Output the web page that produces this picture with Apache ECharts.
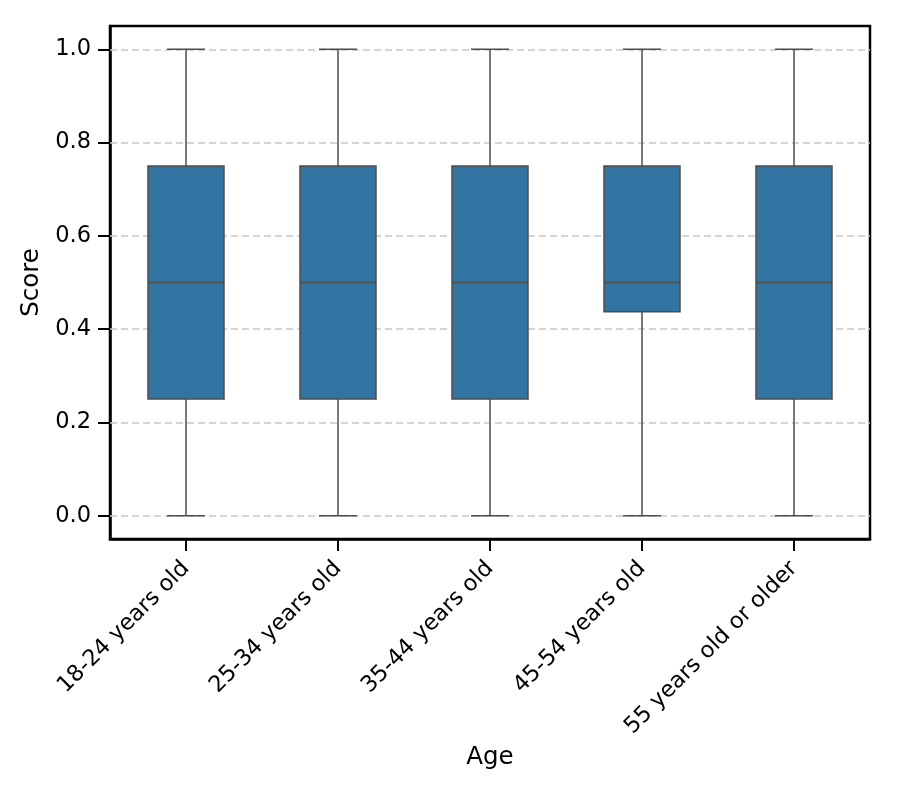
<!DOCTYPE html>
<html>
<head>
<meta charset="utf-8">
<script src="https://cdn.jsdelivr.net/npm/echarts@6/dist/echarts.min.js"></script>
<style>html,body{margin:0;padding:0;background:#fff;}#c{width:897px;height:797px;}</style>
</head>
<body>
<div id="c"></div>
<script>
const categories = ['18-24 years old', '25-34 years old', '35-44 years old', '45-54 years old', '55 years old or older'];
const mins = [0, 0, 0, 0, 0];
const q1s = [0.25, 0.25, 0.25, 0.4375, 0.25];
const medians = [0.5, 0.5, 0.5, 0.5, 0.5];
const q3s = [0.75, 0.75, 0.75, 0.75, 0.75];
const maxs = [1, 1, 1, 1, 1];
const yTicks = [0, 0.2, 0.4, 0.6, 0.8, 1.0];

const data = categories.map((c, i) => [i, mins[i], q1s[i], medians[i], q3s[i], maxs[i]]);
const font = 'DejaVu Sans';
const edge = '#4d4d4d';

const chart = echarts.init(document.getElementById('c'), null, {renderer: 'canvas'});
chart.setOption({
  animation: false,
  backgroundColor: '#fff',
  grid: {left: 110, right: 27, top: 26, bottom: 258, show: true, borderColor: '#000', borderWidth: 2.5, backgroundColor: 'transparent'},
  xAxis: {
    type: 'category',
    data: categories,
    boundaryGap: true,
    name: 'Age',
    nameLocation: 'middle',
    nameGap: 205,
    nameTextStyle: {fontFamily: font, fontSize: 24.5, color: '#000'},
    axisLine: {show: true, onZero: false, lineStyle: {color: '#000', width: 2.5}},
    axisTick: {show: true, alignWithLabel: true, length: 12, lineStyle: {color: '#000', width: 2}},
    axisLabel: {rotate: 45, fontFamily: font, fontSize: 22.5, color: '#000', margin: 26, interval: 0},
    splitLine: {show: false}
  },
  yAxis: {
    type: 'value',
    min: -0.05,
    max: 1.05,
    name: 'Score',
    nameLocation: 'middle',
    nameGap: 52,
    nameTextStyle: {fontFamily: font, fontSize: 24.5, color: '#000'},
    axisLine: {show: true, onZero: false, lineStyle: {color: '#000', width: 2.5}},
    axisTick: {show: true, length: 12, customValues: yTicks, lineStyle: {color: '#000', width: 2}},
    axisLabel: {customValues: yTicks, fontFamily: font, fontSize: 22.5, color: '#000', margin: 19, verticalAlign: 'middle', formatter: v => v.toFixed(1)},
    splitLine: {show: false}
  },
  series: [{
    type: 'custom',
    z: 5,
    data: data,
    encode: {x: 0, y: [1, 2, 3, 4, 5]},
    renderItem: function (params, api) {
      const x = api.value(0);
      const lo = api.coord([x, api.value(1)]);
      const q1 = api.coord([x, api.value(2)]);
      const med = api.coord([x, api.value(3)]);
      const q3 = api.coord([x, api.value(4)]);
      const hi = api.coord([x, api.value(5)]);
      const bw = api.size([1, 0])[0] * 0.5;
      const cw = bw * 0.5;
      const ls = {stroke: edge, lineWidth: 1.5};
      return {
        type: 'group',
        children: [
          {type: 'line', shape: {x1: lo[0], y1: lo[1], x2: q1[0], y2: q1[1]}, style: ls},
          {type: 'line', shape: {x1: q3[0], y1: q3[1], x2: hi[0], y2: hi[1]}, style: ls},
          {type: 'line', shape: {x1: lo[0] - cw / 2, y1: lo[1], x2: lo[0] + cw / 2, y2: lo[1]}, style: ls},
          {type: 'line', shape: {x1: hi[0] - cw / 2, y1: hi[1], x2: hi[0] + cw / 2, y2: hi[1]}, style: ls},
          {type: 'rect', shape: {x: q3[0] - bw / 2, y: q3[1], width: bw, height: q1[1] - q3[1]}, style: {fill: '#3274a1', stroke: edge, lineWidth: 1.5}},
          {type: 'line', shape: {x1: med[0] - bw / 2, y1: med[1], x2: med[0] + bw / 2, y2: med[1]}, style: ls}
        ]
      };
    },
    markLine: {
      z: 1,
      silent: true,
      symbol: ['none', 'none'],
      label: {show: false},
      lineStyle: {color: '#c8c8c8', type: [7, 4], width: 1.5},
      data: yTicks.map(v => ({yAxis: v}))
    }
  }]
});
</script>
</body>
</html>
